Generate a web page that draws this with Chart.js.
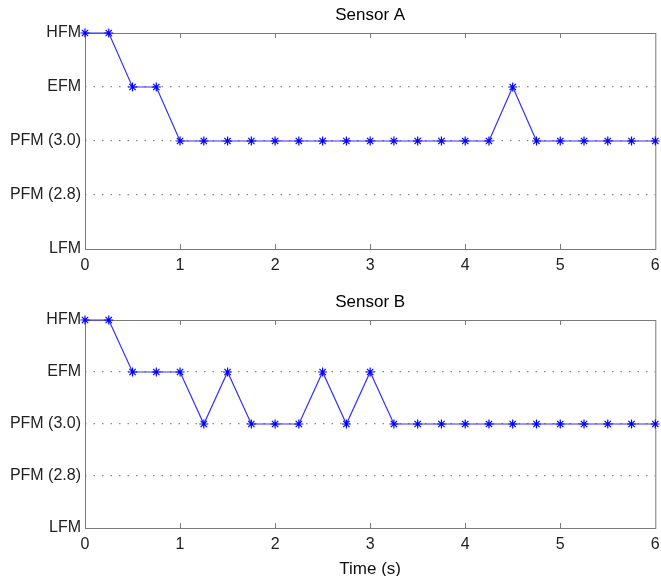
<!DOCTYPE html>
<html>
<head>
<meta charset="utf-8">
<script src="https://cdn.jsdelivr.net/npm/chart.js@4"></script>
<style>
  html, body { margin: 0; padding: 0; background: #fff; }
  .wrap { position: absolute; left: 0; width: 661px; }
  #wrapA { top: 0; height: 290px; }
  #wrapB { top: 290px; height: 286px; }
</style>
</head>
<body>
<div class="wrap" id="wrapA"><canvas id="chartA" width="661" height="290"></canvas></div>
<div class="wrap" id="wrapB"><canvas id="chartB" width="661" height="286"></canvas></div>
<script>
// data
const times = [0, 0.25, 0.5, 0.75, 1, 1.25, 1.5, 1.75, 2, 2.25, 2.5, 2.75, 3,
  3.25, 3.5, 3.75, 4, 4.25, 4.5, 4.75, 5, 5.25, 5.5, 5.75, 6];
const sensorA = [4, 4, 3, 3, 2, 2, 2, 2, 2, 2, 2, 2, 2, 2, 2, 2, 2, 2, 3, 2, 2, 2, 2, 2, 2];
const sensorB = [4, 4, 3, 3, 3, 2, 3, 2, 2, 2, 3, 2, 3, 2, 2, 2, 2, 2, 2, 2, 2, 2, 2, 2, 2];
const yLabels = ['LFM', 'PFM (2.8)', 'PFM (3.0)', 'EFM', 'HFM'];
const xTicks = [0, 1, 2, 3, 4, 5, 6];

const FONT = "'Liberation Sans', Arial, Helvetica, sans-serif";
const BOX = '#7a7a7a';

// box round the axes, inward x ticks, title centred over the axes
const matlabAxes = {
  id: 'matlabAxes',
  beforeDatasetsDraw(chart) {
    const { ctx, chartArea: a, scales } = chart;
    ctx.save();
    ctx.fillStyle = '#fff';
    ctx.fillRect(a.left - 1, a.top - 1, a.right - a.left + 2, 2);
    ctx.fillRect(a.left - 1, a.bottom - 1, a.right - a.left + 2, 2);
    ctx.strokeStyle = BOX;
    ctx.lineWidth = 1;
    ctx.strokeRect(a.left + 0.5, a.top + 0.5, a.right - a.left, a.bottom - a.top);
    ctx.beginPath();
    xTicks.slice(1, -1).forEach(v => {
      const px = Math.round(scales.x.getPixelForValue(v)) + 0.5;
      ctx.moveTo(px, a.bottom);
      ctx.lineTo(px, a.bottom - 5);
      ctx.moveTo(px, a.top);
      ctx.lineTo(px, a.top + 5);
    });
    ctx.stroke();
    ctx.restore();
  },
  afterDraw(chart, args, opts) {
    const { ctx, chartArea: a } = chart;
    ctx.save();
    ctx.fillStyle = '#000';
    ctx.font = '17px ' + FONT;
    ctx.textAlign = 'center';
    ctx.textBaseline = 'middle';
    ctx.fillText(opts.text, (a.left + a.right) / 2, a.top - opts.offset);
    ctx.restore();
  }
};

function makeChart(id, values, title, xTitle, padTop, xHeight) {
  new Chart(document.getElementById(id).getContext('2d'), {
    type: 'line',
    data: {
      datasets: [{
        data: times.map((t, i) => ({ x: t, y: values[i] })),
        borderColor: '#3030ff',
        borderWidth: 1.2,
        pointStyle: 'star',
        pointRadius: 4.5,
        pointBorderColor: '#0000ff',
        pointBorderWidth: 1.2,
        pointBackgroundColor: '#0000ff',
        tension: 0,
        clip: false
      }]
    },
    options: {
      responsive: false,
      animation: false,
      layout: { padding: { top: padTop, right: 4, left: 0, bottom: 0 } },
      plugins: {
        legend: { display: false },
        tooltip: { enabled: false },
        matlabAxes: { text: title, offset: 18 }
      },
      scales: {
        x: {
          type: 'linear', min: 0, max: 6,
          afterBuildTicks: s => { s.ticks = xTicks.map(v => ({ value: v })); },
          grid: { display: false, drawTicks: false },
          border: { display: false },
          ticks: { color: '#222', font: { family: FONT, size: 16 }, padding: 7, maxRotation: 0 },
          title: { display: !!xTitle, text: xTitle, color: '#111', font: { family: FONT, size: 17 }, padding: { top: 3, bottom: -4 } },
          afterFit: s => { s.height = xHeight; s.paddingLeft = 0; s.paddingRight = 0; }
        },
        y: {
          type: 'linear', min: 0, max: 4,
          ticks: {
            stepSize: 1,
            color: '#222',
            font: { family: FONT, size: 16 },
            padding: 4,
            callback: v => yLabels[v]
          },
          grid: { drawTicks: false, color: '#8a8a8a', lineWidth: 1.2 },
          border: { display: false, dash: [1.5, 7] },
          afterFit: s => { s.width = 85; s.paddingTop = 0; s.paddingBottom = 0; }
        }
      }
    },
    plugins: [matlabAxes]
  });
}

makeChart('chartA', sensorA, 'Sensor A', '', 33, 41);
makeChart('chartB', sensorB, 'Sensor B', 'Time (s)', 30, 48);
</script>
</body>
</html>
